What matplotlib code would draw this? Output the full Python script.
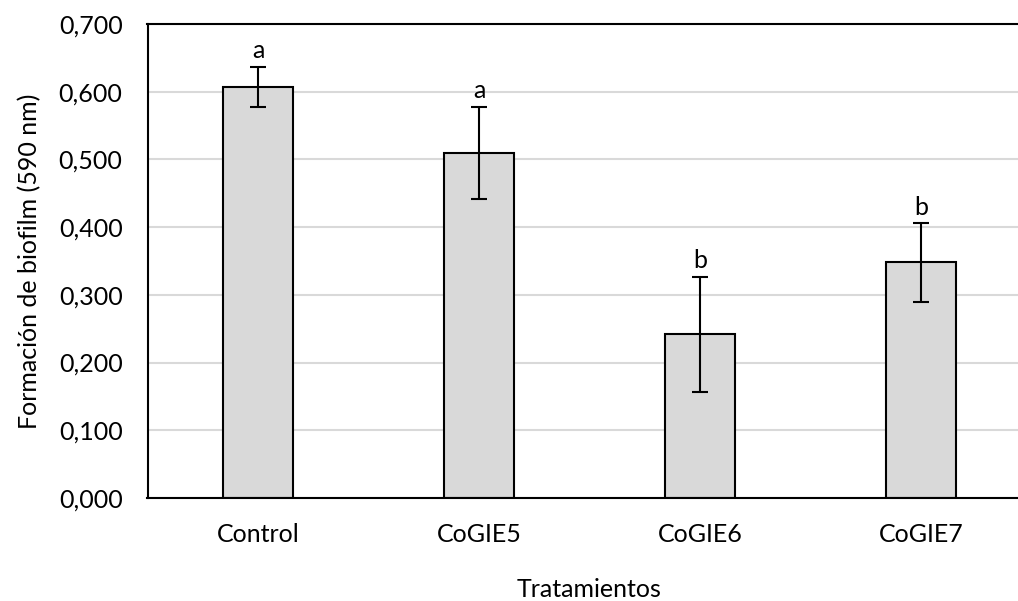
import matplotlib

matplotlib.use("Agg")
import matplotlib.pyplot as plt
import numpy as np

plt.rcParams["font.family"] = ["Lato", "DejaVu Sans"]

treatments = ["Control", "CoGIE5", "CoGIE6", "CoGIE7"]
biofilm = [0.607, 0.510, 0.242, 0.348]
errors = [0.030, 0.068, 0.085, 0.058]
groups = ["a", "a", "b", "b"]
y_ticks = [0.0, 0.1, 0.2, 0.3, 0.4, 0.5, 0.6, 0.7]

BAR_FILL = "#d9d9d9"
GRID = "#d9d9d9"
FONT_SIZE = 18

fig = plt.figure(figsize=(10.18, 6.01), dpi=100)
# plot area runs a little past the right edge of the canvas
ax = fig.add_axes([147.5 / 1018, 1 - 498 / 601, 884 / 1018, 474 / 601])

x = np.arange(len(treatments))
ax.bar(x, biofilm, width=0.317, color=BAR_FILL, edgecolor="black", linewidth=1.5, zorder=2)
ax.errorbar(x, biofilm, yerr=errors, fmt="none", ecolor="black", elinewidth=1.5,
            capsize=6, capthick=1.5, zorder=3)

for xi, val, err, grp in zip(x, biofilm, errors, groups):
    ax.annotate(grp, (xi, val + err), xytext=(0, 3), textcoords="offset points",
                ha="center", va="bottom", fontsize=FONT_SIZE)

ax.set_xlim(-0.5, len(treatments) - 0.5)
ax.set_ylim(0, 0.7)
ax.set_yticks(y_ticks)
ax.set_yticklabels([f"{t:.3f}".replace(".", ",") for t in y_ticks])
ax.set_xticks(x)
ax.set_xticklabels(treatments)
ax.tick_params(axis="both", length=0, labelsize=FONT_SIZE)
ax.tick_params(axis="y", pad=18)
ax.tick_params(axis="x", pad=18)

ax.yaxis.grid(True, color=GRID, linewidth=1.5, zorder=0)
ax.set_axisbelow(True)
for side in ("left", "top", "bottom", "right"):
    ax.spines[side].set_linewidth(1.5)
    ax.spines[side].set_color("black")

ax.set_ylabel("Formación de biofilm (590 nm)", fontsize=FONT_SIZE, va="center")
ax.set_xlabel("Tratamientos", fontsize=FONT_SIZE, va="center")
ax.yaxis.set_label_coords(-0.133, 0.5)
ax.xaxis.set_label_coords(0.5, -0.194)

fig.savefig("out.png", dpi=100)
plt.close(fig)
